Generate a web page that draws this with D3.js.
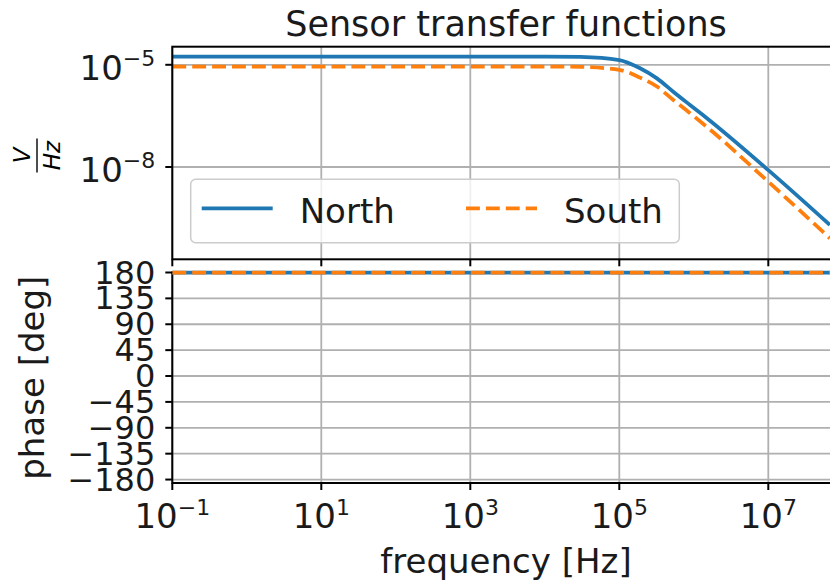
<!DOCTYPE html>
<html>
<head>
<meta charset="utf-8">
<script src="https://d3js.org/d3.v7.min.js"></script>
<style>
    body { margin: 0; background: #fff; }
    svg { display: block; font-family: "DejaVu Sans", sans-serif; }
</style>
</head>
<body>
<div id="chart"></div>
<script>
// Frequencies (Hz)
var freqs = [0.1, 1, 10, 100, 1e3, 1e4, 3e4, 1e5, 1.9e5, 3.2e5, 5.3e5, 8.9e5, 1.5e6, 1e7, 6.7e7];

// Magnitude [V/Hz]
var northMag = [1.75e-5, 1.75e-5, 1.75e-5, 1.75e-5, 1.75e-5, 1.75e-5, 1.7e-5, 1.38e-5, 7.9e-6, 4.0e-6, 1.62e-6, 6.6e-7, 2.7e-7, 8.1e-9, 2.0e-10];
var southMag = [8.9e-6, 8.9e-6, 8.9e-6, 8.9e-6, 8.9e-6, 8.9e-6, 8.7e-6, 7.1e-6, 4.2e-6, 2.3e-6, 9.3e-7, 3.8e-7, 1.5e-7, 3.7e-9, 8.1e-11];

// Phase [deg]
var northPhase = [180, 180, 180, 180, 180, 180, 180, 180, 180, 180, 180, 180, 180, 180, 180];
var southPhase = [180, 180, 180, 180, 180, 180, 180, 180, 180, 180, 180, 180, 180, 180, 180];

// Tick labels
var xTickExp = [-1, 1, 3, 5, 7];
var magTickExp = [-5, -8];
var phaseTicks = [180, 135, 90, 45, 0, -45, -90, -135, -180];

(function() {
    var width = 830,
        height = 583;

    var blue = "#1f77b4",
        orange = "#ff7f0e",
        gridColor = "#b0b0b0";

    var svg = d3.select("#chart")
        .append("svg")
        .attr("width", width)
        .attr("height", height);

    // axes boxes (right edge falls outside the picture)
    var left = 172.3, right = 842.8;
    var magTop = 46.7, magBottom = 259.3;
    var phTop = 272.5, phBottom = 483;

    var x = d3.scaleLog().domain([0.1, 1e8]).range([left, right]);
    var yMag = d3.scaleLog().domain([Math.pow(10, -10.709), Math.pow(10, -4.469)]).range([magBottom, magTop]);
    var yPh = d3.scaleLinear().domain([-186, 180]).range([phBottom, phTop]);

    var xTicks = xTickExp.map(function(e) { return Math.pow(10, e) });
    var magTicks = magTickExp.map(function(e) { return Math.pow(10, e) });

    var minus = "\u2212";

    // helper to write 10^e as real text
    function powLabel(sel, e, size, supSize, supRise) {
        sel.append("tspan").text("10").attr("font-size", size);
        sel.append("tspan").text(String(e).replace("-", minus))
            .attr("font-size", supSize)
            .attr("dy", -supRise);
    }

    svg.append("defs").append("clipPath").attr("id", "clipMag")
        .append("rect").attr("x", left).attr("y", magTop)
        .attr("width", right - left).attr("height", magBottom - magTop);

    // ---------- top panel: magnitude ----------
    var gMag = svg.append("g");

    gMag.selectAll(".vgrid").data(xTicks).enter().append("line")
        .attr("x1", function(d) { return x(d) }).attr("x2", function(d) { return x(d) })
        .attr("y1", magTop).attr("y2", magBottom)
        .attr("stroke", gridColor).attr("stroke-width", 1.8);

    gMag.selectAll(".hgrid").data(magTicks).enter().append("line")
        .attr("x1", left).attr("x2", right)
        .attr("y1", function(d) { return yMag(d) }).attr("y2", function(d) { return yMag(d) })
        .attr("stroke", gridColor).attr("stroke-width", 1.8);

    var magLine = d3.line()
        .x(function(d) { return x(d[0]) })
        .y(function(d) { return yMag(d[1]) })
        .curve(d3.curveMonotoneX);

    var plotMag = gMag.append("g").attr("clip-path", "url(#clipMag)");

    plotMag.append("path")
        .datum(d3.zip(freqs, northMag))
        .attr("d", magLine)
        .attr("fill", "none").attr("stroke", blue).attr("stroke-width", 3.75);

    plotMag.append("path")
        .datum(d3.zip(freqs, southMag))
        .attr("d", magLine)
        .attr("fill", "none").attr("stroke", orange).attr("stroke-width", 3.75)
        .attr("stroke-dasharray", "13.9,6");

    // spines
    gMag.append("rect")
        .attr("x", left).attr("y", magTop)
        .attr("width", right - left).attr("height", magBottom - magTop)
        .attr("fill", "none").attr("stroke", "#000").attr("stroke-width", 2);

    // y ticks
    var magTickG = gMag.selectAll(".magtick").data(magTicks).enter().append("g")
        .attr("transform", function(d) { return "translate(0," + yMag(d) + ")" });
    magTickG.append("line").attr("x1", left - 7).attr("x2", left).attr("stroke", "#000").attr("stroke-width", 2);
    magTickG.append("text")
        .attr("x", left - 17).attr("y", 15)
        .attr("text-anchor", "end")
        .attr("fill", "#1a1a1a")
        .each(function(d, i) { powLabel(d3.select(this), magTickExp[i], 34, 22, 14) });

    // x ticks (no labels) on top panel
    gMag.selectAll(".xt").data(xTicks).enter().append("line")
        .attr("x1", function(d) { return x(d) }).attr("x2", function(d) { return x(d) })
        .attr("y1", magBottom).attr("y2", magBottom + 7)
        .attr("stroke", "#000").attr("stroke-width", 2);

    // V / Hz label
    var frac = svg.append("g").attr("transform", "translate(37,155.5) rotate(-90)");
    frac.append("text").text("V").attr("x", 0).attr("y", -7)
        .attr("text-anchor", "middle").attr("font-size", 23).attr("font-style", "italic");
    frac.append("line").attr("x1", -17).attr("x2", 17).attr("y1", 0).attr("y2", 0)
        .attr("stroke", "#000").attr("stroke-width", 1.4);
    frac.append("text").text("Hz").attr("x", 0).attr("y", 23)
        .attr("text-anchor", "middle").attr("font-size", 23).attr("font-style", "italic");

    // title
    svg.append("text")
        .text("Sensor transfer functions")
        .attr("x", 506).attr("y", 36)
        .attr("text-anchor", "middle")
        .attr("font-size", 35)
        .attr("fill", "#1a1a1a");

    // legend
    var leg = svg.append("g");
    leg.append("rect")
        .attr("x", 190.7).attr("y", 179.3).attr("width", 488.6).attr("height", 63.4)
        .attr("rx", 5)
        .attr("fill", "#fff").attr("fill-opacity", 0.8)
        .attr("stroke", "#cccccc").attr("stroke-width", 1.5);

    var legItems = [
        { name: "North", color: blue, dash: null, x: 201.7 },
        { name: "South", color: orange, dash: "13.9,6", x: 466 }
    ];
    var li = leg.selectAll(".li").data(legItems).enter().append("g");
    li.append("line")
        .attr("x1", function(d) { return d.x }).attr("x2", function(d) { return d.x + 71 })
        .attr("y1", 208.3).attr("y2", 208.3)
        .attr("stroke", function(d) { return d.color })
        .attr("stroke-width", 3.75)
        .attr("stroke-dasharray", function(d) { return d.dash });
    li.append("text")
        .text(function(d) { return d.name })
        .attr("x", function(d) { return d.x + 98 })
        .attr("y", 223.3)
        .attr("font-size", 34)
        .attr("fill", "#1a1a1a");

    // ---------- bottom panel: phase ----------
    var gPh = svg.append("g");

    gPh.selectAll(".vgrid").data(xTicks).enter().append("line")
        .attr("x1", function(d) { return x(d) }).attr("x2", function(d) { return x(d) })
        .attr("y1", phTop).attr("y2", phBottom)
        .attr("stroke", gridColor).attr("stroke-width", 1.8);

    gPh.selectAll(".hgrid").data(phaseTicks).enter().append("line")
        .attr("x1", left).attr("x2", right)
        .attr("y1", function(d) { return yPh(d) }).attr("y2", function(d) { return yPh(d) })
        .attr("stroke", gridColor).attr("stroke-width", 1.8);

    gPh.append("rect")
        .attr("x", left).attr("y", phTop)
        .attr("width", right - left).attr("height", phBottom - phTop)
        .attr("fill", "none").attr("stroke", "#000").attr("stroke-width", 2);

    var phLine = d3.line()
        .x(function(d) { return x(d[0]) })
        .y(function(d) { return yPh(d[1]) });

    gPh.append("path")
        .datum(d3.zip(freqs, northPhase))
        .attr("d", phLine)
        .attr("fill", "none").attr("stroke", blue).attr("stroke-width", 3.75);

    gPh.append("path")
        .datum(d3.zip(freqs, southPhase))
        .attr("d", phLine)
        .attr("fill", "none").attr("stroke", orange).attr("stroke-width", 3.75)
        .attr("stroke-dasharray", "13.9,6");

    // phase y ticks
    var phTickG = gPh.selectAll(".phtick").data(phaseTicks).enter().append("g")
        .attr("transform", function(d) { return "translate(0," + yPh(d) + ")" });
    phTickG.append("line").attr("x1", left - 7).attr("x2", left).attr("stroke", "#000").attr("stroke-width", 2);
    phTickG.append("text")
        .text(function(d) { return String(d).replace("-", minus) })
        .attr("x", left - 17).attr("y", 11)
        .attr("text-anchor", "end")
        .attr("font-size", 32)
        .attr("fill", "#1a1a1a");

    // x ticks + labels
    var xTickG = gPh.selectAll(".xtick").data(xTicks).enter().append("g")
        .attr("transform", function(d) { return "translate(" + x(d) + "," + phBottom + ")" });
    xTickG.append("line").attr("y1", 0).attr("y2", 7).attr("stroke", "#000").attr("stroke-width", 2);
    xTickG.append("text")
        .attr("x", 0).attr("y", 45.3)
        .attr("text-anchor", "middle")
        .attr("fill", "#1a1a1a")
        .each(function(d, i) { powLabel(d3.select(this), xTickExp[i], 34, 22, 13) });

    // axis labels
    svg.append("text")
        .text("frequency [Hz]")
        .attr("x", 506).attr("y", 573)
        .attr("text-anchor", "middle")
        .attr("font-size", 34)
        .attr("fill", "#1a1a1a");

    svg.append("text")
        .text("phase [deg]")
        .attr("transform", "translate(44," + ((phTop + phBottom) / 2) + ") rotate(-90)")
        .attr("text-anchor", "middle")
        .attr("font-size", 34)
        .attr("fill", "#1a1a1a");
})();
</script>
</body>
</html>
